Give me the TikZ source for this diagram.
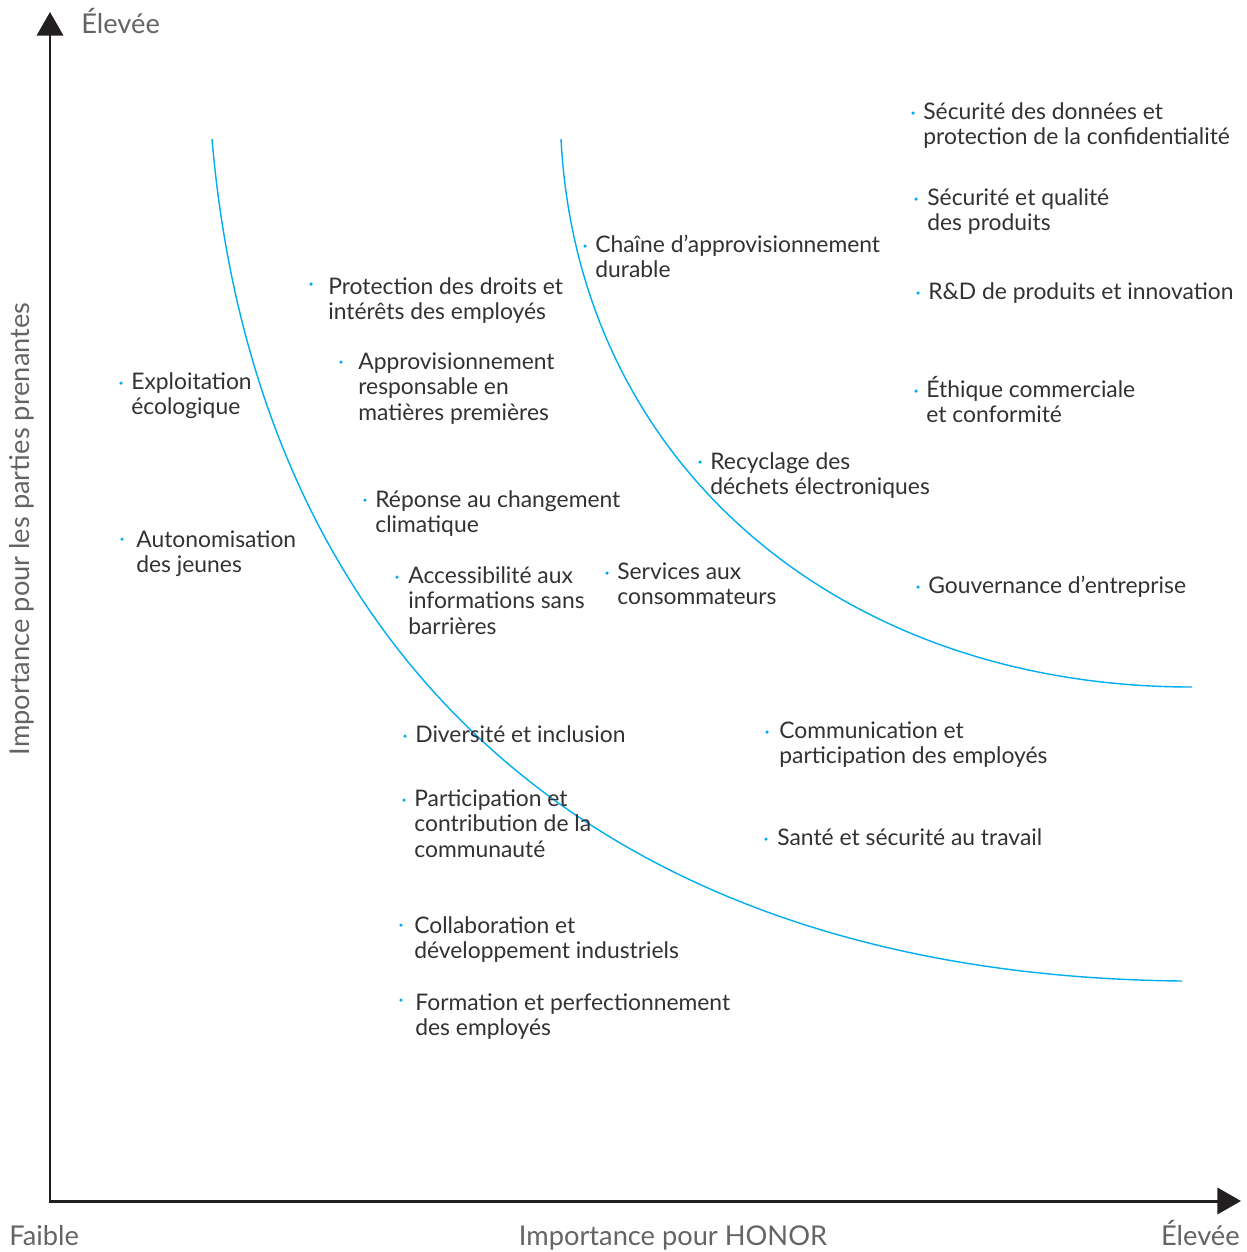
\documentclass[tikz,border=0pt]{standalone}
\usepackage{fontspec}
\setmainfont{Lato}
\usetikzlibrary{arrows.meta}
\definecolor{honblue}{RGB}{0,174,239}
\definecolor{inkgray}{RGB}{51,49,50}
\definecolor{labelgray}{RGB}{100,100,100}
\definecolor{axisblack}{RGB}{35,31,32}
\begin{document}
\begin{tikzpicture}[
		x=0.02cm, y=-0.02cm,
		axis/.style={line width=1.7pt, color=axisblack,
				{Triangle[length=13.5pt,width=15pt]}-{Triangle[length=13.5pt,width=15pt]}},
		boundary/.style={line width=0.8pt, color=honblue},
		bullet/.style={circle, fill=honblue, inner sep=0pt, minimum size=2pt},
		topic/.style={anchor=base west, align=left, inner sep=0pt, color=inkgray,
				font=\fontsize{13}{14.5}\selectfont},
		axislabel/.style={inner sep=0pt, color=labelgray,
				font=\fontsize{15.5}{18}\selectfont}
	]
	\useasboundingbox (0,0) rectangle (1247,1252);

	% axes
	\coordinate (origin) at (50,1201);
	\coordinate (ytip) at (50,12);
	\coordinate (xtip) at (1241,1201);
	\draw[axis] (ytip) -- (origin) -- (xtip);

	\node[axislabel, anchor=base west] (yhigh) at (81,33) {Élevée};
	\node[axislabel, anchor=base west] (xlow) at (9,1245) {Faible};
	\node[axislabel, anchor=base east] (xhigh) at (1240,1245) {Élevée};
	\node[axislabel, anchor=base] (xname) at (673,1245) {Importance pour HONOR};
	\node[axislabel, anchor=base, rotate=90] (yname) at (30,529) {Importance pour les parties prenantes};

	% materiality boundaries
	\coordinate (innerstart) at (212,139);
	\coordinate (innerend) at (1182,981);
	\coordinate (outerstart) at (561,139);
	\coordinate (outerend) at (1192,687);
	\draw[boundary] (innerstart) .. controls (255,640) and (580,975) .. (innerend);
	\draw[boundary] (outerstart) .. controls (578,465) and (840,687) .. (outerend);

	% topics (placed at the baseline of their last line)
	\node[bullet] (b1) at (913,113) {};
	\node[topic] (t1) at (923,144.5) {Sécurité des données et\\protection de la confidentialité};
	\node[bullet] (b2) at (916,199) {};
	\node[topic] (t2) at (927,230.5) {Sécurité et qualité\\des produits};
	\node[bullet] (b3) at (585,246) {};
	\node[topic] (t3) at (595,277.5) {Chaîne d’approvisionnement\\durable};
	\node[bullet] (b4) at (918,293) {};
	\node[topic] (t4) at (928,299) {R\&D de produits et innovation};
	\node[bullet] (b5) at (311,284) {};
	\node[topic] (t5) at (328,319.5) {Protection des droits et\\intérêts des employés};
	\node[bullet] (b6) at (341,362) {};
	\node[topic] (t6) at (358,420) {Approvisionnement\\responsable en\\matières premières};
	\node[bullet] (b7) at (121,383) {};
	\node[topic] (t7) at (131,414.5) {Exploitation\\écologique};
	\node[bullet] (b8) at (916,391) {};
	\node[topic] (t8) at (926,422.5) {Éthique commerciale\\et conformité};
	\node[bullet] (b9) at (700,462) {};
	\node[topic] (t9) at (710,494.5) {Recyclage des\\déchets électroniques};
	\node[bullet] (b10) at (365,500) {};
	\node[topic] (t10) at (375,532.5) {Réponse au changement\\climatique};
	\node[bullet] (b11) at (122,539) {};
	\node[topic] (t11) at (136,572.5) {Autonomisation\\des jeunes};
	\node[bullet] (b12) at (397,577) {};
	\node[topic] (t12) at (408,634) {Accessibilité aux\\informations sans\\barrières};
	\node[bullet] (b13) at (607,573) {};
	\node[topic] (t13) at (617,604.5) {Services aux\\consommateurs};
	\node[bullet] (b14) at (918,587) {};
	\node[topic] (t14) at (928,593) {Gouvernance d’entreprise};
	\node[bullet] (b15) at (405,736) {};
	\node[topic] (t15) at (415,742) {Diversité et inclusion};
	\node[bullet] (b16) at (767,732) {};
	\node[topic] (t16) at (779,763.5) {Communication et\\participation des employés};
	\node[bullet] (b17) at (404,800) {};
	\node[topic] (t17) at (414,857) {Participation et\\contribution de la\\communauté};
	\node[bullet] (b18) at (766,839) {};
	\node[topic] (t18) at (777,845) {Santé et sécurité au travail};
	\node[bullet] (b19) at (401,925) {};
	\node[topic] (t19) at (414,958.5) {Collaboration et\\développement industriels};
	\node[bullet] (b20) at (401,1000) {};
	\node[topic] (t20) at (415,1035.5) {Formation et perfectionnement\\des employés};
\end{tikzpicture}
\end{document}
